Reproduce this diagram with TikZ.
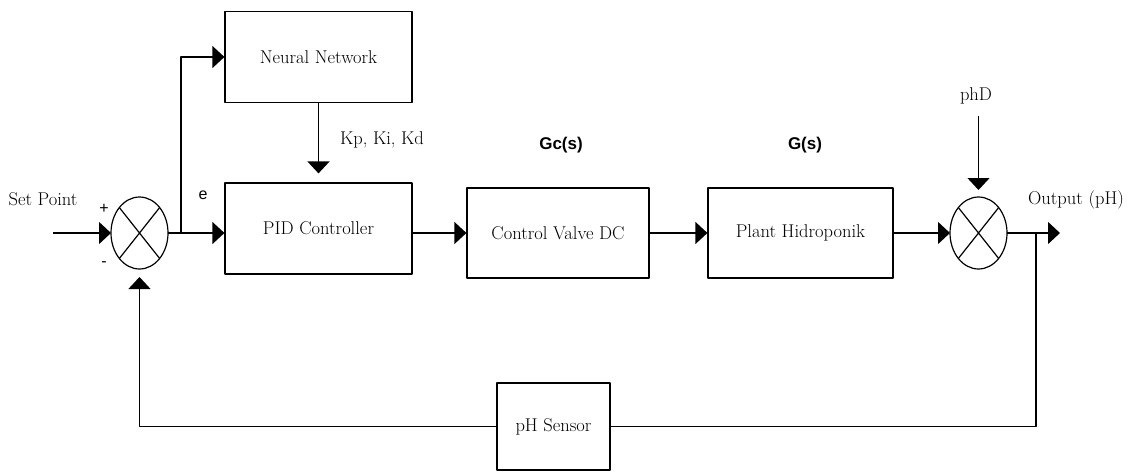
\documentclass[tikz,border=0pt]{standalone}
\usepackage{fontspec}
\setsansfont{Liberation Sans}
\usetikzlibrary{arrows.meta,shapes.geometric}
\begin{document}
\begin{tikzpicture}[x=1pt, y=-1pt, >={Triangle[length=12pt,width=22pt]}, line width=1.2pt, line join=round,
	font=\fontsize{18.5}{22}\selectfont,
	blok/.style={draw, minimum width=187pt, minimum height=91pt, inner sep=0pt},
	sumpt/.style={draw, ellipse, minimum width=57pt, minimum height=72pt, inner sep=0pt, outer sep=0pt},
	lbl/.style={font=\sffamily\fontsize{16}{19}\selectfont},
	tf/.style={font=\sffamily\bfseries\fontsize{17}{20}\selectfont}]
	\useasboundingbox (0,0) rectangle (1129,472);
	% blocks
	\node [blok] (nn) at (318.5,57) {Neural Network};
	\node [blok] (pid) at (318.5,228.5) {PID Controller};
	\node [blok, minimum width=182pt, minimum height=90pt] (valve) at (558,233) {Control Valve DC};
	\node [blok, minimum width=185pt, minimum height=90pt] (plant) at (800.5,233) {Plant Hidroponik};
	\node [blok, minimum width=113pt, minimum height=87pt] (sensor) at (553.5,426.5) {pH Sensor};
	\node [sumpt] (sum1) at (139.5,233) {};
	\node [sumpt] (sum2) at (978.5,233) {};
	\foreach \s in {sum1,sum2}
		\draw (\s.north west)--(\s.south east) (\s.north east)--(\s.south west);
	% labels
	\node (sp) at (43,199) {Set Point};
	\node [lbl] (plus) at (104,209) {+};
	\node [lbl] (minus) at (104,264) {-};
	\node [lbl] (err) at (203,195) {e};
	\node (gains) at (382,140) {Kp, Ki, Kd};
	\node [tf] (gc) at (561,145) {Gc(s)};
	\node [tf] (gp) at (805,145) {G(s)};
	\node (phd) at (976,96) {phD};
	\node (outlbl) at (1076,200) {Output (pH)};
	\coordinate (in) at (53,233);
	\coordinate (out) at (1060,233);
	\coordinate (b1) at (181,233);
	\coordinate (b2) at (1036,233);
	% signal lines
	\draw [->] (in)--(sum1.west);
	\draw [->] (sum1.east)--(pid.west |- sum1.east);
	\draw [->] (b1) |- (nn.west);
	\draw [->, shorten >=9pt] (nn)--(pid);
	\draw [->] (pid.east |- valve.west)--(valve.west);
	\draw [->] (valve)--(plant);
	\draw [->] (plant)--(sum2);
	\draw [->, shorten <=8pt, shorten >=7pt] (sum2.north |- phd.south)--(sum2.north);
	\draw [->] (sum2.east)--(out);
	\draw (b2) |- (sensor.east);
	\draw [->, shorten >=8pt] (sensor.west) -| (sum1.south);
\end{tikzpicture}
\end{document}
